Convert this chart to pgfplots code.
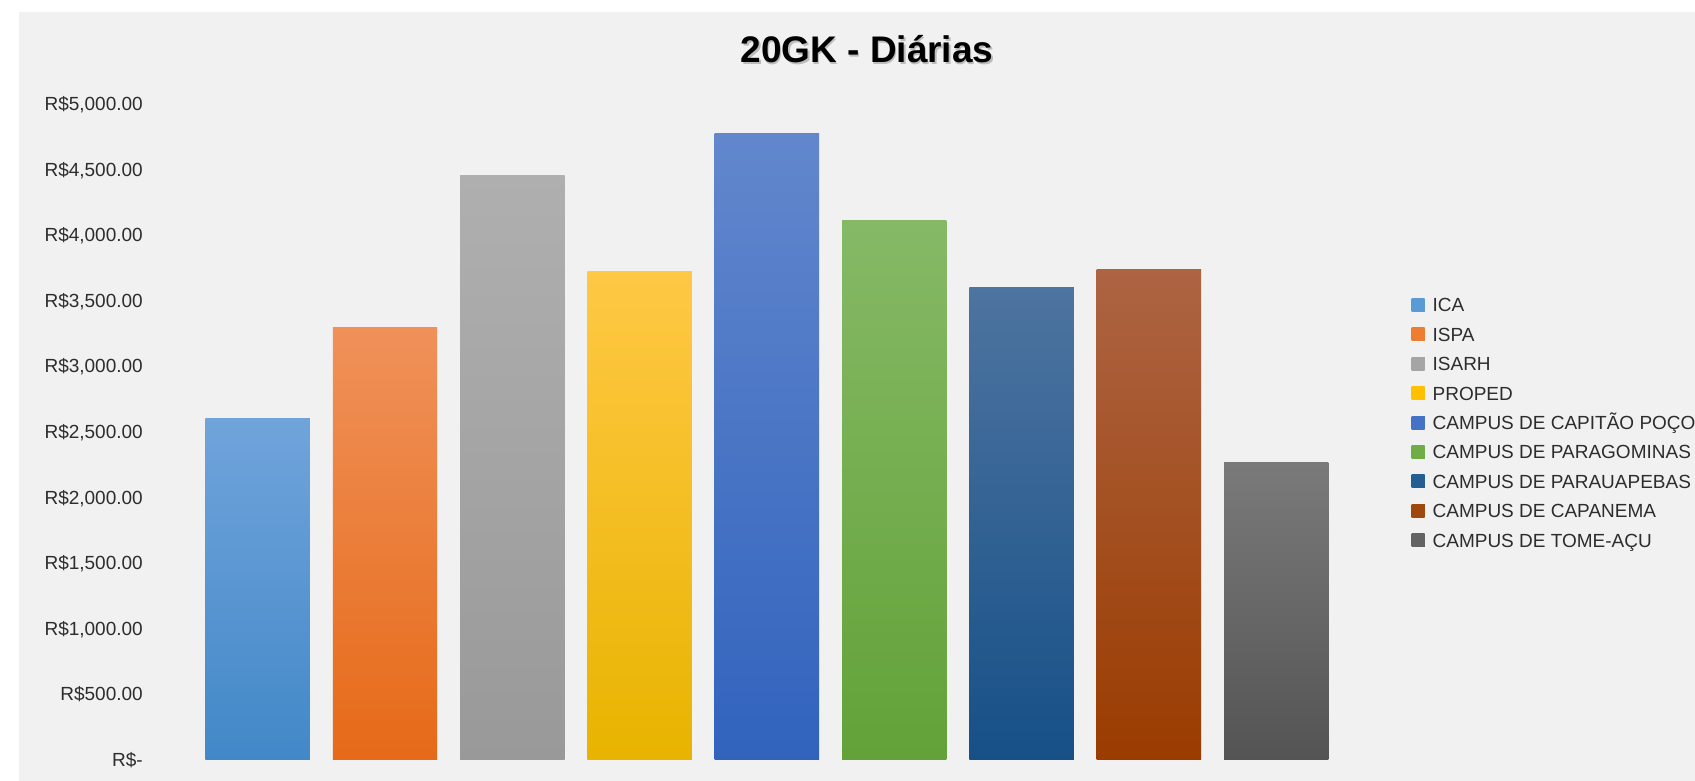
\documentclass[border=0pt]{standalone}
\usepackage{pgfplots}
\pgfplotsset{compat=1.18}
\usepackage{fontspec}
\setmainfont{Liberation Sans}
\definecolor{bg}{RGB}{241,241,241}
\definecolor{txt}{RGB}{45,45,45}
% top / bottom / legend colours
\definecolor{c1t}{HTML}{70A4DB}\definecolor{c1b}{HTML}{4288C8}\definecolor{c1}{HTML}{5B9BD5}
\definecolor{c2t}{HTML}{F0915A}\definecolor{c2b}{HTML}{E66A18}\definecolor{c2}{HTML}{ED7D31}
\definecolor{c3t}{HTML}{AFAFAF}\definecolor{c3b}{HTML}{999999}\definecolor{c3}{HTML}{A5A5A5}
\definecolor{c4t}{HTML}{FFC845}\definecolor{c4b}{HTML}{E8B400}\definecolor{c4}{HTML}{FFC000}
\definecolor{c5t}{HTML}{6287CD}\definecolor{c5b}{HTML}{3163BD}\definecolor{c5}{HTML}{4472C4}
\definecolor{c6t}{HTML}{86B966}\definecolor{c6b}{HTML}{62A238}\definecolor{c6}{HTML}{70AD47}
\definecolor{c7t}{HTML}{4E74A0}\definecolor{c7b}{HTML}{165087}\definecolor{c7}{HTML}{255E91}
\definecolor{c8t}{HTML}{AD6443}\definecolor{c8b}{HTML}{9A3C00}\definecolor{c8}{HTML}{9E480E}
\definecolor{c9t}{HTML}{7A7A7A}\definecolor{c9b}{HTML}{545454}\definecolor{c9}{HTML}{636363}
\pgfplotsset{
  mybar/.style n args={3}{ybar, bar width=0.82, bar shift=0pt, draw=none,
    top color=#1, bottom color=#2,
    legend image code/.code={\fill[fill=#3, top color=#3, bottom color=#3] (0pt,-6.5pt) rectangle (13pt,6.5pt);}},
}
\begin{document}
\begin{tikzpicture}[x=1pt,y=1pt]
\useasboundingbox (0,0) rectangle (1695,781);
\fill[white] (0,0) rectangle (1695,781);
\fill[bg] (19,0) rectangle (1695,769);
\node[font=\fontsize{37}{40}\selectfont\bfseries, text=black!40, opacity=0.6, anchor=base] at (868.5,716.8) {20GK - Diárias};
\node[font=\fontsize{37}{40}\selectfont\bfseries, text=black, anchor=base] at (867,718.3) {20GK - Diárias};
\begin{axis}[
  at={(194pt,21.5pt)}, anchor=south west,
  scale only axis, width=1146pt, height=655.5pt,
  xmin=-0.5, xmax=8.5, ymin=0, ymax=5000,
  axis line style={draw=none}, tick style={draw=none},
  xtick=\empty,
  ytick={0,500,1000,1500,2000,2500,3000,3500,4000,4500,5000},
  yticklabels={R\$-,R\$500.00,{R\$1,000.00},{R\$1,500.00},{R\$2,000.00},{R\$2,500.00},{R\$3,000.00},{R\$3,500.00},{R\$4,000.00},{R\$4,500.00},{R\$5,000.00}},
  yticklabel style={font=\fontsize{19}{19}\selectfont, text=txt, anchor=base east, inner sep=0pt, xshift=-51pt, yshift=-6.8pt},
  legend cell align=left,
  legend style={draw=none, fill=none, inner sep=0pt, outer sep=0pt,
    at={(axis description cs:1.0626,0.7037)}, anchor=north west,
    font=\fontsize{19}{19}\selectfont, text=txt,
    row sep=15.8pt,
    nodes={inner sep=0pt, text height=13.6pt, text depth=0pt},
    /tikz/every odd column/.append style={column sep=8pt}},
]
\addplot[mybar={c1t}{c1b}{c1}] coordinates {(0,2603)};
\addlegendentry{ICA}
\addplot[mybar={c2t}{c2b}{c2}] coordinates {(1,3294)};
\addlegendentry{ISPA}
\addplot[mybar={c3t}{c3b}{c3}] coordinates {(2,4456)};
\addlegendentry{ISARH}
\addplot[mybar={c4t}{c4b}{c4}] coordinates {(3,3721)};
\addlegendentry{PROPED}
\addplot[mybar={c5t}{c5b}{c5}] coordinates {(4,4777)};
\addlegendentry{CAMPUS DE CAPITÃO POÇO}
\addplot[mybar={c6t}{c6b}{c6}] coordinates {(5,4110)};
\addlegendentry{CAMPUS DE PARAGOMINAS}
\addplot[mybar={c7t}{c7b}{c7}] coordinates {(6,3599)};
\addlegendentry{CAMPUS DE PARAUAPEBAS}
\addplot[mybar={c8t}{c8b}{c8}] coordinates {(7,3736)};
\addlegendentry{CAMPUS DE CAPANEMA}
\addplot[mybar={c9t}{c9b}{c9}] coordinates {(8,2269)};
\addlegendentry{CAMPUS DE TOME-AÇU}
\end{axis}
\end{tikzpicture}
\end{document}
